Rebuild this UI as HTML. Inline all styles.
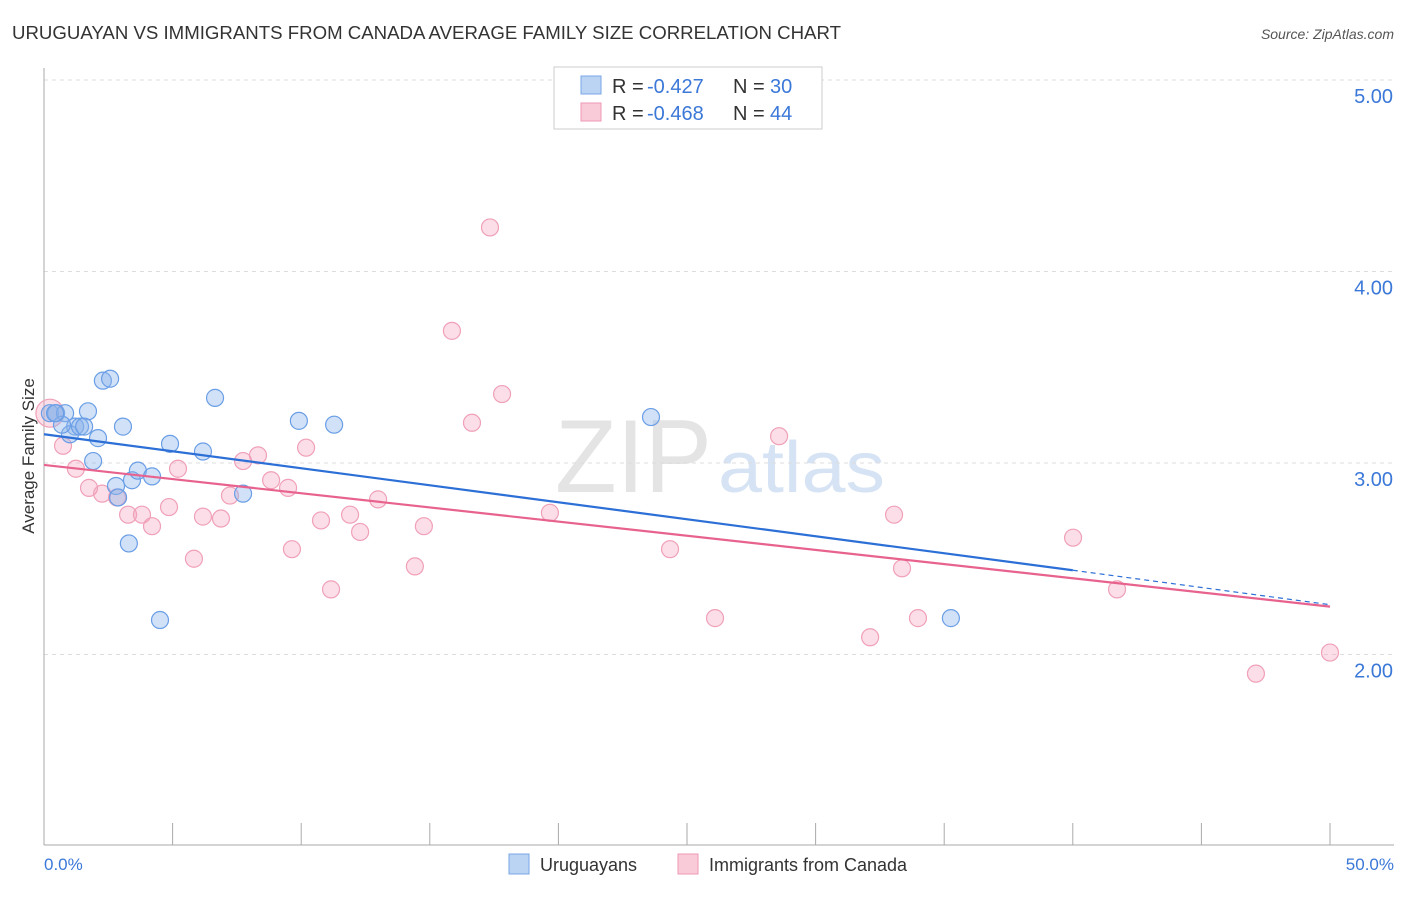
<!DOCTYPE html>
<html><head><meta charset="utf-8"><style>
body{margin:0;background:#fff;font-family:"Liberation Sans",sans-serif}
svg text{font-family:"Liberation Sans",sans-serif}
</style></head><body>
<svg id="c" width="1406" height="892">
<text x="12" y="39" font-size="18" fill="#333" textLength="829" lengthAdjust="spacingAndGlyphs">URUGUAYAN VS IMMIGRANTS FROM CANADA AVERAGE FAMILY SIZE CORRELATION CHART</text>
<text x="1394" y="39" font-size="14" fill="#555" font-style="italic" text-anchor="end">Source: ZipAtlas.com</text>
<text x="712" y="492" font-size="104" fill="#e4e4e4" font-family="Liberation Serif" text-anchor="end" textLength="157" lengthAdjust="spacingAndGlyphs">ZIP</text>
<text x="718" y="492" font-size="72" fill="#d6e3f4" textLength="167" lengthAdjust="spacingAndGlyphs">atlas</text>
<g id="grid"></g><g id="axes"></g><g id="marks"></g>
<text transform="translate(34,456) rotate(-90)" font-size="17" fill="#333" text-anchor="middle">Average Family Size</text>
<text x="44" y="870" font-size="17" fill="#3b78d8">0.0%</text>
<text x="1394" y="870" font-size="17" fill="#3b78d8" text-anchor="end">50.0%</text>
<g>
<rect x="554" y="67" width="268" height="62" fill="#fff" stroke="#ccc"/>
<rect x="581" y="76" width="20" height="18" fill="#bcd4f4" stroke="#7aa6e6"/>
<rect x="581" y="103" width="20" height="18" fill="#f9cad8" stroke="#ee9ab4"/>
<text x="612" y="93" font-size="20" fill="#333">R =</text>
<text x="647" y="93" font-size="20" fill="#3b78d8">-0.427</text>
<text x="733" y="93" font-size="20" fill="#333">N =</text>
<text x="770" y="93" font-size="20" fill="#3b78d8">30</text>
<text x="612" y="120" font-size="20" fill="#333">R =</text>
<text x="647" y="120" font-size="20" fill="#3b78d8">-0.468</text>
<text x="733" y="120" font-size="20" fill="#333">N =</text>
<text x="770" y="120" font-size="20" fill="#3b78d8">44</text>
</g>
<g>
<rect x="509" y="854" width="20" height="20" fill="#bcd4f4" stroke="#7aa6e6"/>
<text x="540" y="871" font-size="18" fill="#333">Uruguayans</text>
<rect x="678" y="854" width="20" height="20" fill="#f9cad8" stroke="#ee9ab4"/>
<text x="709" y="871" font-size="18" fill="#333">Immigrants from Canada</text>
</g>
</svg>
<script>
const yTicks=[2,3,4,5];
const yTickLabels=["2.00","3.00","4.00","5.00"];
const xTicks=[0,5,10,15,20,25,30,35,40,45,50];
const blueX=[0.23,0.47,0.82,1.21,1.01,1.40,1.71,1.56,2.10,1.91,2.29,2.57,3.07,2.80,2.88,3.42,3.65,4.20,3.30,4.51,4.90,6.18,6.65,7.74,9.91,11.28,23.60,35.26,0.70,0.43];
const blueY=[3.26,3.26,3.26,3.19,3.15,3.19,3.27,3.19,3.13,3.01,3.43,3.44,3.19,2.88,2.82,2.91,2.96,2.93,2.58,2.18,3.10,3.06,3.34,2.84,3.22,3.20,3.24,2.19,3.20,3.26];
const pinkX=[0.23,0.74,1.24,1.75,2.26,2.84,3.27,3.81,4.20,4.86,5.21,5.83,6.18,6.88,7.23,7.74,8.32,8.83,9.49,9.64,10.19,10.77,11.16,11.90,12.29,12.99,14.42,14.77,15.86,16.64,17.34,17.81,19.67,24.34,26.09,28.58,32.12,33.05,33.36,33.98,40.01,41.72,47.12,50.0];
const pinkY=[3.26,3.09,2.97,2.87,2.84,2.82,2.73,2.73,2.67,2.77,2.97,2.50,2.72,2.71,2.83,3.01,3.04,2.91,2.87,2.55,3.08,2.70,2.34,2.73,2.64,2.81,2.46,2.67,3.69,3.21,4.23,3.36,2.74,2.55,2.19,3.14,2.09,2.73,2.45,2.19,2.61,2.34,1.90,2.01];
const blueTrend=[[0,3.15],[40,2.44],[50,2.26]];
const pinkTrend=[[0,2.99],[50,2.25]];
const X=v=>44+v*25.72, Y=v=>463-(v-3)*191.5;
const NS="http://www.w3.org/2000/svg";
function mk(p,t,a){const e=document.createElementNS(NS,t);for(const k in a)e.setAttribute(k,a[k]);p.appendChild(e);return e;}
const g=document.getElementById('grid'),ax=document.getElementById('axes'),m=document.getElementById('marks');
yTicks.forEach((v,i)=>{
 const l=mk(g,'line',{x1:44,x2:1394,y1:Y(v),y2:Y(v),stroke:'#ddd','stroke-dasharray':'4,4'});
 
 
 const t=mk(g,'text',{x:1393,y:Y(v)+23,'font-size':20,fill:'#3b78d8','text-anchor':'end'});t.textContent=yTickLabels[i];
 
 
});
const a1=mk(ax,'line',{x1:44,x2:44,y1:68,y2:845,stroke:'#aaa'});


const a2=mk(ax,'line',{x1:44,x2:1394,y1:845,y2:845,stroke:'#aaa'});


xTicks.forEach(v=>{const t=mk(ax,'line',{x1:X(v),x2:X(v),y1:823,y2:845,stroke:'#aaa'});
 
 });
pinkX.forEach((x,i)=>{const c=mk(m,'circle',{cx:X(x),cy:Y(pinkY[i]),r:i==0?14:8.5,fill:'rgba(244,160,186,0.35)',stroke:'#f0a0b8','stroke-width':1.2});
 
 });
blueX.forEach((x,i)=>{const c=mk(m,'circle',{cx:X(x),cy:Y(blueY[i]),r:8.5,fill:'rgba(140,180,236,0.4)',stroke:'#6a9ee6','stroke-width':1.2});
 
 });
const b1=mk(m,'line',{x1:X(blueTrend[0][0]),y1:Y(blueTrend[0][1]),x2:X(blueTrend[1][0]),y2:Y(blueTrend[1][1]),stroke:'#2c6fd6','stroke-width':2.2});


const b2=mk(m,'line',{x1:X(blueTrend[1][0]),y1:Y(blueTrend[1][1]),x2:X(blueTrend[2][0]),y2:Y(blueTrend[2][1]),stroke:'#2c6fd6','stroke-width':1.2,'stroke-dasharray':'5,4'});


const p1=mk(m,'line',{x1:X(pinkTrend[0][0]),y1:Y(pinkTrend[0][1]),x2:X(pinkTrend[1][0]),y2:Y(pinkTrend[1][1]),stroke:'#e8628e','stroke-width':2.2});


</script>
</body></html>
